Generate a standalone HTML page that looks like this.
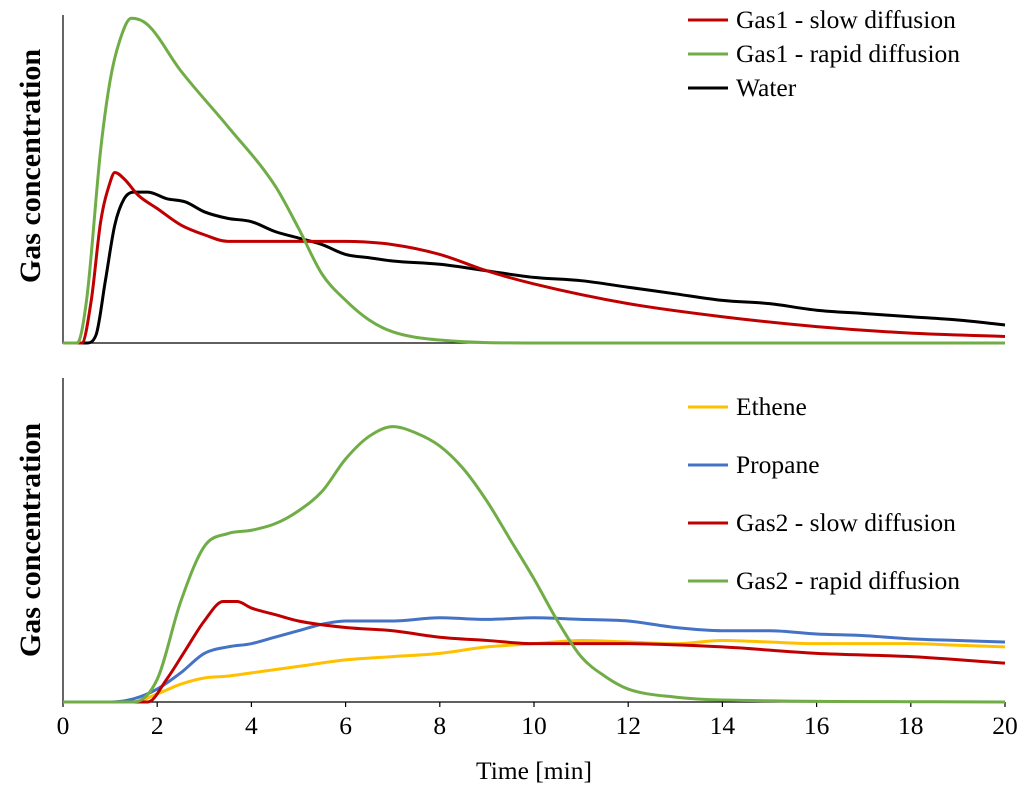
<!DOCTYPE html>
<html><head><meta charset="utf-8"><style>
body{margin:0;background:#fff}
svg{display:block;font-family:"Liberation Serif",serif}
</style></head><body>
<svg id="c" width="1024" height="792"></svg>
<script>
const tGreen1=[0,0.3,0.5,0.8,1.0,1.2,1.45,1.8,2.5,3.5,4.5,5.0,5.5,6.0,6.5,7,8,10,20];
const vGreen1=[0,0,13,59,80,92,99,97,83,66,48,35,21,13,7,3.4,0.9,0,0];
const tRed1=[0,0.4,0.6,0.8,1.0,1.1,1.3,1.6,2,2.5,3,3.5,4,5,6,7,8,9,10,12,14,16,18,20];
const vRed1=[0,0,13,37,49,52,50,45,41,36,33,31,31,31,31,30,27,22,18,12,8,5,3,2];
const tWater=[0,0.5,0.7,0.9,1.1,1.3,1.5,1.8,2.2,2.6,3,3.5,4,4.5,5,5.5,6,6.5,7,8,9,10,11,12,13,14,15,16,17,18,19,20];
const vWater=[0,0,2.4,19,36,44,46,46,44,43,40,38,37,34,32,30,27,26,25,24,22,20,19,17,15,13,12,10,9,8,7,5.5];
const tGreen2=[0,1.5,2,2.5,3,3.5,4,4.5,5,5.5,6,6.5,7,7.5,8,8.5,9,9.5,10,10.5,11,11.5,12,13,14,20];
const vGreen2=[0,0,7,31,48,52,53,55,59,65,75,82,85,83,79,72,62,50,38,25,14,8,4,1.5,0.6,0];
const tRed2=[0,1.8,2.2,2.6,3,3.4,3.7,4,4.5,5,6,7,8,9,10,12,14,16,18,20];
const vRed2=[0,0,7,16,25,31,31,29,27,25,23,22,20,19,18,18,17,15,14,12];
const tProp=[0,1,1.5,2,2.5,3,3.5,4,4.5,5,5.5,6,7,8,9,10,11,12,13,14,15,16,17,18,19,20];
const vProp=[0,0,1,4,9,15,17,18,20,22,24,25,25,26,25.5,26,25.5,25,23,22,22,21,20.5,19.5,19,18.5];
const tEth=[0,1.5,2,2.5,3,3.5,4,4.5,5,6,7,8,9,10,11,12,13,14,15,16,17,18,19,20];
const vEth=[0,0,2.5,5.5,7.4,8,9,10,11,13,14,15,17,18,19,18.5,18,19,18.5,18,18,18,17.5,17];
const xTicks=[0,2,4,6,8,10,12,14,16,18,20];

const S=document.getElementById('c'),NS='http://www.w3.org/2000/svg';
const X=t=>63+t*(1005-63)/20;
const Y1=v=>343-v*3.28, Y2=v=>702-v*3.24;
function el(tag,attrs,parent){const e=document.createElementNS(NS,tag);for(const k in attrs)e.setAttribute(k,attrs[k]);(parent||S).appendChild(e);return e;}
function path(ts,vs,Y){const p=ts.map((t,i)=>[X(t),Y(vs[i])]);const n=p.length;
 const d=[],m=[];for(let i=0;i<n-1;i++)d.push((p[i+1][1]-p[i][1])/(p[i+1][0]-p[i][0]));
 for(let i=0;i<n;i++){if(i==0)m.push(d[0]);else if(i==n-1)m.push(d[n-2]);else m.push(d[i-1]*d[i]<=0?0:(d[i-1]+d[i])/2);}
 for(let i=0;i<n-1;i++){if(d[i]==0){m[i]=0;m[i+1]=0;continue;}const a=m[i]/d[i],b=m[i+1]/d[i],s=a*a+b*b;if(s>9){const k=3/Math.sqrt(s);m[i]=k*a*d[i];m[i+1]=k*b*d[i];}}
 let s='M'+p[0][0]+','+p[0][1];
 for(let i=0;i<n-1;i++){const h=(p[i+1][0]-p[i][0])/3;
 s+=`C${p[i][0]+h},${p[i][1]+m[i]*h} ${p[i+1][0]-h},${p[i+1][1]-m[i+1]*h} ${p[i+1][0]},${p[i+1][1]}`;}return s;}
function line(ts,vs,Y,col,name){const e=el('path',{d:path(ts,vs,Y),fill:'none',stroke:col,'stroke-width':3,'stroke-linejoin':'round'});

}
function text(x,y,s,attrs,name){const e=el('text',Object.assign({x:x,y:y,'font-size':25.5},attrs||{}));e.textContent=s;

return e;}
let a;
a=el('path',{d:'M63,15V343H1005',fill:'none',stroke:'#000','stroke-width':1.2});


a=el('path',{d:'M63,378V702H1005',fill:'none',stroke:'#000','stroke-width':1.2});


xTicks.forEach(t=>{const m=el('line',{x1:X(t),x2:X(t),y1:702,y2:707,stroke:'#000','stroke-width':1.2});


text(X(t),734,String(t),{'text-anchor':'middle'},'x-tick-label');});
text(534,779,'Time [min]',{'text-anchor':'middle'},'x-axis-title');
text(0,0,'Gas concentration',{'text-anchor':'middle','font-weight':'bold','font-size':30,transform:'translate(40,166) rotate(-90)'},'top-y-axis-title');
text(0,0,'Gas concentration',{'text-anchor':'middle','font-weight':'bold','font-size':30,transform:'translate(40,540) rotate(-90)'},'bottom-y-axis-title');
line(tWater,vWater,Y1,'#000','water-line');
line(tRed1,vRed1,Y1,'#c00000','gas1-slow-line');
line(tGreen1,vGreen1,Y1,'#70ad47','gas1-rapid-line');
line(tEth,vEth,Y2,'#ffc000','ethene-line');
line(tProp,vProp,Y2,'#4472c4','propane-line');
line(tRed2,vRed2,Y2,'#c00000','gas2-slow-line');
line(tGreen2,vGreen2,Y2,'#70ad47','gas2-rapid-line');
function leg(y,col,s,name){const l=el('line',{x1:688,x2:728,y1:y,y2:y,stroke:col,'stroke-width':3});


text(736,y+8,s,{},name);}
leg(20,'#c00000','Gas1 - slow diffusion','legend-gas1-slow');
leg(54,'#70ad47','Gas1 - rapid diffusion','legend-gas1-rapid');
leg(88,'#000','Water','legend-water');
leg(407,'#ffc000','Ethene','legend-ethene');
leg(465,'#4472c4','Propane','legend-propane');
leg(523,'#c00000','Gas2 - slow diffusion','legend-gas2-slow');
leg(581,'#70ad47','Gas2 - rapid diffusion','legend-gas2-rapid');
</script>
</body></html>
